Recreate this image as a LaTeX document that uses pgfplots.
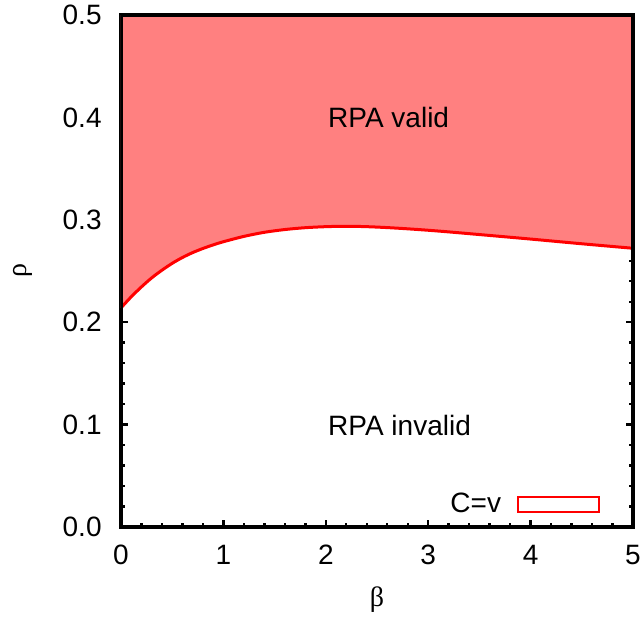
\documentclass[border=0pt]{standalone}
\usepackage{fontspec}
\setmainfont{Liberation Sans}
\newfontfamily\greekfont{Liberation Serif}
\usepackage{pgfplots}
\pgfplotsset{compat=1.18}
\definecolor{fillred}{RGB}{255,128,128}
\begin{document}
\fontsize{14}{17}\selectfont
\begin{tikzpicture}
\useasboundingbox (-60.5pt,-51pt) rectangle (261.5pt,263.5pt);
\begin{axis}[
  scale only axis, width=256pt, height=256pt,
  at={(0pt,0pt)}, anchor=south west,
  xmin=0, xmax=5, ymin=0, ymax=0.5,
  xtick={0,1,2,3,4,5}, ytick={0,0.1,0.2,0.3,0.4,0.5},
  minor x tick num=4, minor y tick num=4,
  tick align=inside, tick pos=both,
  major tick length=3.5pt, minor tick length=1.8pt,
  every tick/.style={black, line width=1.2pt},
  axis line style={line width=2pt},
  axis on top=false,
  /pgf/number format/assume math mode=true,
  y tick label style={/pgf/number format/fixed, /pgf/number format/fixed zerofill, /pgf/number format/precision=1, inner sep=0pt, xshift=-9.5pt},
  x tick label style={inner sep=0pt, yshift=-9pt},
  xlabel={\greekfont β}, ylabel={\greekfont ρ},
  xlabel style={at={([yshift=-39.5pt]axis description cs:0.5,0)}, anchor=base, inner sep=0pt},
  ylabel style={at={([xshift=-47pt]axis description cs:0,0.5)}, anchor=base, inner sep=0pt},
  legend plot pos=right,
  legend style={draw=none, fill=none, at={(axis cs:4.678,0.022)}, anchor=east, inner sep=0pt, outer sep=0pt, nodes={inner sep=0pt}, column sep=8pt},
]
\addplot[fill=fillred, draw=none, forget plot] coordinates {
(0.0,0.2140) (0.1,0.2248) (0.2,0.2345) (0.3,0.2433) (0.4,0.2508) (0.5,0.2575)
(0.6,0.2632) (0.7,0.2680) (0.8,0.2720) (0.9,0.2755) (1.0,0.2786) (1.2,0.2838)
(1.4,0.2878) (1.6,0.2905) (1.8,0.2923) (2.0,0.2933) (2.2,0.2937) (2.4,0.2933)
(2.6,0.2924) (2.8,0.2912) (3.0,0.2898) (3.2,0.2882) (3.5,0.2856) (4.0,0.2812)
(4.5,0.2766) (5.0,0.2722) (5,0.5) (0,0.5)};
\addplot[red, line width=1.5pt, smooth, forget plot] coordinates {
(0.0,0.2140) (0.1,0.2248) (0.2,0.2345) (0.3,0.2433) (0.4,0.2508) (0.5,0.2575)
(0.6,0.2632) (0.7,0.2680) (0.8,0.2720) (0.9,0.2755) (1.0,0.2786) (1.2,0.2838)
(1.4,0.2878) (1.6,0.2905) (1.8,0.2923) (2.0,0.2933) (2.2,0.2937) (2.4,0.2933)
(2.6,0.2924) (2.8,0.2912) (3.0,0.2898) (3.2,0.2882) (3.5,0.2856) (4.0,0.2812)
(4.5,0.2766) (5.0,0.2722)};
\addlegendimage{legend image code/.code={\draw[red, line width=1pt, fill=white] (0pt,-3.75pt) rectangle (40.5pt,3.75pt);}}
\addlegendentry{C=v}
\node[anchor=base west, inner sep=0pt] at (axis cs:2.02,0.3906) {RPA valid};
\node[anchor=base west, inner sep=0pt] at (axis cs:2.02,0.0898) {RPA invalid};
\draw[line width=2pt] (rel axis cs:0,0) rectangle (rel axis cs:1,1);
\end{axis}
\end{tikzpicture}
\end{document}
